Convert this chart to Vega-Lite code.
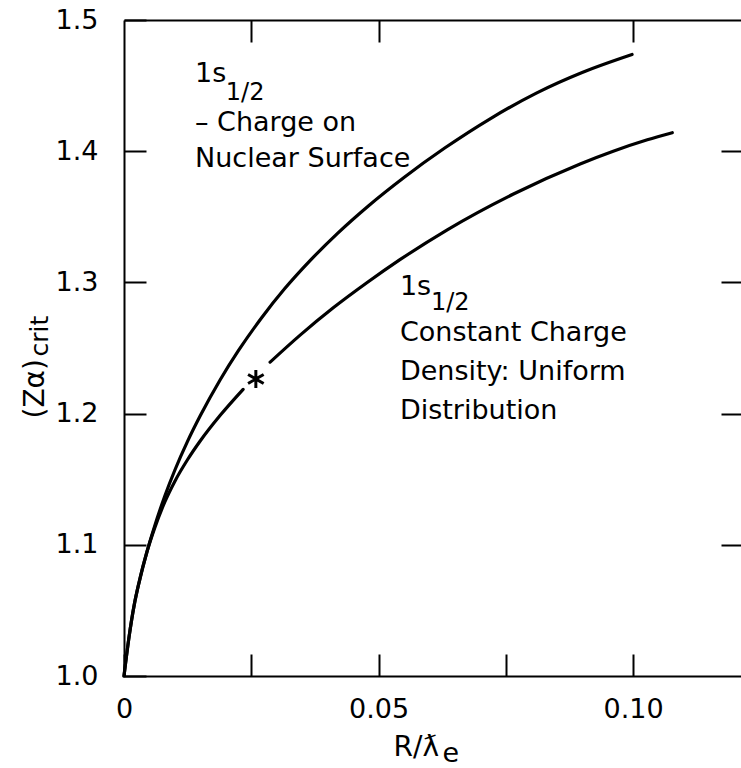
{
  "$schema": "https://vega.github.io/schema/vega-lite/v6.json",
  "width": 617,
  "height": 656,
  "autosize": {"type": "none"},
  "padding": {"left": 124, "top": 20, "right": 0, "bottom": 92},
  "background": "white",
  "config": {
    "view": {"stroke": null},
    "font": "DejaVu Sans",
    "axis": {
      "grid": false,
      "domainColor": "black",
      "tickColor": "black",
      "labelColor": "black",
      "titleColor": "black",
      "labelFont": "DejaVu Sans",
      "titleFont": "DejaVu Sans",
      "titleFontWeight": "normal",
      "domainWidth": 2,
      "tickWidth": 2,
      "labelFlush": false,
      "labelOverlap": false,
      "labelBound": false
    }
  },
  "datasets": {
    "curves": [
      {"seg": "surface", "x": 0, "y": 1.0},
      {"seg": "surface", "x": 0.001, "y": 1.03},
      {"seg": "surface", "x": 0.002, "y": 1.054},
      {"seg": "surface", "x": 0.003, "y": 1.072},
      {"seg": "surface", "x": 0.0045, "y": 1.0945},
      {"seg": "surface", "x": 0.006, "y": 1.114},
      {"seg": "surface", "x": 0.008, "y": 1.137},
      {"seg": "surface", "x": 0.01, "y": 1.157},
      {"seg": "surface", "x": 0.0125, "y": 1.179},
      {"seg": "surface", "x": 0.015, "y": 1.1985},
      {"seg": "surface", "x": 0.0189, "y": 1.2258},
      {"seg": "surface", "x": 0.0225, "y": 1.2481},
      {"seg": "surface", "x": 0.027, "y": 1.2729},
      {"seg": "surface", "x": 0.0315, "y": 1.2949},
      {"seg": "surface", "x": 0.0365, "y": 1.3164},
      {"seg": "surface", "x": 0.042, "y": 1.3376},
      {"seg": "surface", "x": 0.048, "y": 1.3583},
      {"seg": "surface", "x": 0.055, "y": 1.38},
      {"seg": "surface", "x": 0.063, "y": 1.4024},
      {"seg": "surface", "x": 0.072, "y": 1.4249},
      {"seg": "surface", "x": 0.081, "y": 1.4443},
      {"seg": "surface", "x": 0.09, "y": 1.46},
      {"seg": "surface", "x": 0.0998, "y": 1.4737},
      {"seg": "uniform-a", "x": 0, "y": 1.0},
      {"seg": "uniform-a", "x": 0.001, "y": 1.03},
      {"seg": "uniform-a", "x": 0.002, "y": 1.054},
      {"seg": "uniform-a", "x": 0.003, "y": 1.072},
      {"seg": "uniform-a", "x": 0.0045, "y": 1.0945},
      {"seg": "uniform-a", "x": 0.006, "y": 1.1125},
      {"seg": "uniform-a", "x": 0.008, "y": 1.1325},
      {"seg": "uniform-a", "x": 0.01, "y": 1.1485},
      {"seg": "uniform-a", "x": 0.0125, "y": 1.165},
      {"seg": "uniform-a", "x": 0.015, "y": 1.1793},
      {"seg": "uniform-a", "x": 0.0189, "y": 1.1987},
      {"seg": "uniform-a", "x": 0.0234, "y": 1.2185},
      {"seg": "uniform-b", "x": 0.0287, "y": 1.2392},
      {"seg": "uniform-b", "x": 0.0346, "y": 1.2598},
      {"seg": "uniform-b", "x": 0.0411, "y": 1.2806},
      {"seg": "uniform-b", "x": 0.0477, "y": 1.2997},
      {"seg": "uniform-b", "x": 0.0542, "y": 1.3173},
      {"seg": "uniform-b", "x": 0.0635, "y": 1.3401},
      {"seg": "uniform-b", "x": 0.0764, "y": 1.3672},
      {"seg": "uniform-b", "x": 0.0896, "y": 1.3903},
      {"seg": "uniform-b", "x": 0.0961, "y": 1.4},
      {"seg": "uniform-b", "x": 0.1028, "y": 1.4087},
      {"seg": "uniform-b", "x": 0.1077, "y": 1.4141}
    ],
    "star": [
      {"x": 0.0259, "y": 1.2264}
    ],
    "labels": [
      {"x": 0.01395, "y": 1.4527, "text": "1s"},
      {"x": 0.01395, "y": 1.4154, "text": "– Charge on"},
      {"x": 0.01395, "y": 1.388, "text": "Nuclear Surface"},
      {"x": 0.0542, "y": 1.2904, "text": "1s"},
      {"x": 0.0542, "y": 1.2553, "text": "Constant Charge"},
      {"x": 0.0542, "y": 1.2256, "text": "Density: Uniform"},
      {"x": 0.0542, "y": 1.1959, "text": "Distribution"}
    ],
    "subs": [
      {"x": 0.02, "y": 1.439, "text": "1/2"},
      {"x": 0.0603, "y": 1.279, "text": "1/2"}
    ]
  },
  "layer": [
    {
      "data": {"name": "curves"},
      "mark": {"type": "line", "color": "black", "strokeWidth": 3.2, "interpolate": "monotone", "strokeCap": "round"},
      "encoding": {
        "x": {
          "field": "x", "type": "quantitative",
          "scale": {"domain": [0, 0.1212], "nice": false, "zero": false},
          "axis": {
            "orient": "bottom",
            "values": [0, 0.025, 0.05, 0.075, 0.1],
            "labelExpr": "datum.value == 0 ? '0' : (abs(datum.value - 0.05) < 1e-9 ? '0.05' : (abs(datum.value - 0.1) < 1e-9 ? '0.10' : ''))",
            "tickSize": -22,
            "labelPadding": 42,
            "labelFontSize": 27,
            "labelBaseline": "top",
            "labelAlign": "center",
            "title": "R/ƛ",
            "titleFontSize": 28,
            "titleX": 269,
            "titleY": 79,
            "titleAlign": "left",
            "titleBaseline": "alphabetic"
          }
        },
        "y": {
          "field": "y", "type": "quantitative",
          "scale": {"domain": [1.0, 1.5], "nice": false, "zero": false},
          "axis": {
            "orient": "left",
            "values": [1.0, 1.1, 1.2, 1.3, 1.4, 1.5],
            "format": ".1f",
            "tickSize": -22,
            "labelPadding": 48,
            "labelFontSize": 27,
            "labelBaseline": "middle",
            "labelAlign": "right",
            "title": "(Zα)",
            "titleFontSize": 28,
            "titleAngle": 270,
            "titleX": -81,
            "titleY": 398,
            "titleAlign": "left",
            "titleBaseline": "alphabetic"
          }
        },
        "detail": {"field": "seg", "type": "nominal"}
      }
    },
    {
      "data": {"name": "star"},
      "mark": {
        "type": "point",
        "shape": "M0,-1L0,1M-0.866,-0.5L0.866,0.5M-0.866,0.5L0.866,-0.5",
        "filled": false,
        "stroke": "black",
        "strokeWidth": 3,
        "size": 324,
        "opacity": 1
      },
      "encoding": {
        "x": {
          "field": "x", "type": "quantitative",
          "scale": {"domain": [0, 0.1212], "nice": false, "zero": false},
          "axis": {
            "orient": "top",
            "values": [0.025, 0.05, 0.1],
            "labels": false,
            "tickSize": -22,
            "domain": true,
            "title": null
          }
        },
        "y": {
          "field": "y", "type": "quantitative",
          "scale": {"domain": [1.0, 1.5], "nice": false, "zero": false},
          "axis": {
            "orient": "right",
            "values": [1.1, 1.2, 1.3, 1.4],
            "labels": false,
            "domain": false,
            "tickSize": -20,
            "title": null
          }
        }
      }
    },
    {
      "data": {"name": "labels"},
      "mark": {"type": "text", "align": "left", "baseline": "alphabetic", "fontSize": 27, "font": "DejaVu Sans", "color": "black"},
      "encoding": {
        "x": {
          "field": "x", "type": "quantitative",
          "scale": {"domain": [0, 0.1212], "nice": false, "zero": false},
          "axis": {
            "orient": "bottom",
            "labels": false,
            "ticks": false,
            "domain": false,
            "title": "e",
            "titleFontSize": 27,
            "titleX": 318,
            "titleY": 85,
            "titleAlign": "left",
            "titleBaseline": "alphabetic"
          }
        },
        "y": {
          "field": "y", "type": "quantitative",
          "scale": {"domain": [1.0, 1.5], "nice": false, "zero": false},
          "axis": {
            "orient": "left",
            "labels": false,
            "ticks": false,
            "domain": false,
            "title": "crit",
            "titleFontSize": 25,
            "titleAngle": 270,
            "titleX": -77,
            "titleY": 336,
            "titleAlign": "left",
            "titleBaseline": "alphabetic"
          }
        },
        "text": {"field": "text", "type": "nominal"}
      }
    },
    {
      "data": {"name": "subs"},
      "mark": {"type": "text", "align": "left", "baseline": "alphabetic", "fontSize": 24, "font": "DejaVu Sans", "color": "black"},
      "encoding": {
        "x": {
          "field": "x", "type": "quantitative",
          "scale": {"domain": [0, 0.1212], "nice": false, "zero": false},
          "axis": null
        },
        "y": {
          "field": "y", "type": "quantitative",
          "scale": {"domain": [1.0, 1.5], "nice": false, "zero": false},
          "axis": null
        },
        "text": {"field": "text", "type": "nominal"}
      }
    }
  ],
  "resolve": {
    "scale": {"x": "independent", "y": "independent"},
    "axis": {"x": "independent", "y": "independent"}
  }
}
